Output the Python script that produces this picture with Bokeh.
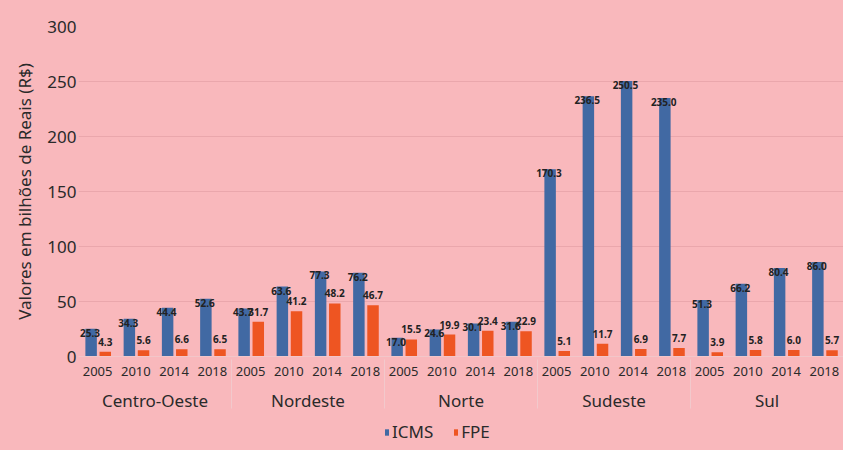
from bokeh.plotting import figure
from bokeh.layouts import column
from bokeh.models import FactorRange, Range1d, ColumnDataSource, Legend, LegendItem, FixedTicker
from bokeh.transform import dodge
from bokeh.core.properties import value
from bokeh.embed import file_html
from bokeh.resources import INLINE

regions = ["Centro-Oeste", "Nordeste", "Norte", "Sudeste", "Sul"]
years = ["2005", "2010", "2014", "2018"]
icms = [25.3, 34.3, 44.4, 52.6,
        43.7, 63.6, 77.3, 76.2,
        17.0, 24.6, 30.1, 31.6,
        170.3, 236.5, 250.5, 235.0,
        51.3, 66.2, 80.4, 86.0]
fpe = [4.3, 5.6, 6.6, 6.5,
       31.7, 41.2, 48.2, 46.7,
       15.5, 19.9, 23.4, 22.9,
       5.1, 11.7, 6.9, 7.7,
       3.9, 5.8, 6.0, 5.7]
y_ticks = [0, 50, 100, 150, 200, 250, 300]
series = ["ICMS", "FPE"]

BG = "#F9B8BC"
BLUE = "#4169A3"
ORANGE = "#EE5522"
FONT = "Noto Sans"

factors = [(r, y) for r in regions for y in years]
src = ColumnDataSource(dict(
    x=factors, icms=icms, fpe=fpe,
    icms_lbl=[f"{v:.1f}" for v in icms],
    fpe_lbl=[f"{v:.1f}" for v in fpe],
))

p = figure(width=843, height=420, output_backend="svg", toolbar_location=None,
           x_range=FactorRange(*factors, group_padding=0, factor_padding=0, range_padding=0),
           y_range=Range1d(0, 300))
p.min_border_left = 78
p.min_border_right = 0
p.min_border_top = 26
p.min_border_bottom = 64
p.background_fill_color = BG
p.border_fill_color = BG
p.outline_line_color = None

p.vbar(x=dodge("x", -0.17, range=p.x_range), top="icms", width=0.3, source=src,
       fill_color=BLUE, line_color=None)
p.vbar(x=dodge("x", 0.2, range=p.x_range), top="fpe", width=0.3, source=src,
       fill_color=ORANGE, line_color=None)

p.text(x=dodge("x", -0.2, range=p.x_range), y="icms", text="icms_lbl", source=src,
       text_font=value(FONT), text_font_size="10px", text_font_style="bold",
       text_color="#222222", text_align="center", text_baseline="middle", y_offset=4)
p.text(x=dodge("x", 0.2, range=p.x_range), y="fpe", text="fpe_lbl", source=src,
       text_font=value(FONT), text_font_size="10px", text_font_style="bold",
       text_color="#222222", text_align="center", text_baseline="middle", y_offset=-10)

# grid
p.xgrid.grid_line_color = None
p.ygrid.grid_line_color = "#EAA7AC"
p.ygrid.grid_line_width = 1

# y axis
ya = p.yaxis[0]
ya.ticker = FixedTicker(ticks=y_ticks)
ya.axis_line_color = None
ya.major_tick_line_color = None
ya.major_tick_out = 0
ya.major_tick_in = 0
ya.minor_tick_line_color = None
ya.minor_tick_out = 0
ya.major_label_text_font = FONT
ya.major_label_text_font_size = "17px"
ya.major_label_text_color = "#2a2a2a"
ya.major_label_standoff = 2
ya.axis_label = "Valores em bilhões de Reais (R$)"
ya.axis_label_text_font = FONT
ya.axis_label_text_font_size = "17px"
ya.axis_label_text_font_style = "normal"
ya.axis_label_text_color = "#2a2a2a"
ya.axis_label_standoff = 8

# x axis
xa = p.xaxis[0]
xa.axis_line_color = "#F2C6C9"
xa.major_tick_line_color = None
xa.major_tick_out = 0
xa.minor_tick_line_color = None
xa.major_label_text_font = FONT
xa.major_label_text_font_size = "13px"
xa.major_label_text_color = "#2a2a2a"
xa.major_label_standoff = 10
xa.group_text_font = FONT
xa.group_text_font_size = "17px"
xa.group_text_color = "#2a2a2a"
xa.group_text_font_style = "normal"
xa.separator_line_color = "#F2C9CC"
xa.separator_line_width = 1

# legend strip below the chart (its bars have zero width, only the legend shows)
lg = figure(width=843, height=30, output_backend="svg", toolbar_location=None,
            x_range=FactorRange(*factors, group_padding=0, factor_padding=0, range_padding=0),
            y_range=Range1d(-20, -10), x_axis_type=None, y_axis_type=None)
lg.min_border_left = 0
lg.min_border_right = 0
lg.min_border_top = 0
lg.min_border_bottom = 0
lg.background_fill_color = BG
lg.border_fill_color = BG
lg.outline_line_color = None
lg.grid.grid_line_color = None
lr1 = lg.vbar(x="x", top="icms", width=0, source=src, fill_color=BLUE, line_color=None)
lr2 = lg.vbar(x="x", top="fpe", width=0, source=src, fill_color=ORANGE, line_color=None)
legend = Legend(items=[LegendItem(label=series[0], renderers=[lr1]),
                       LegendItem(label=series[1], renderers=[lr2])],
                orientation="horizontal", location=(306, 7),
                background_fill_alpha=0, border_line_color=None,
                label_text_font=FONT, label_text_font_size="17px",
                label_text_color="#2a2a2a", glyph_width=5, glyph_height=8,
                spacing=20, label_standoff=3, padding=2, margin=0)
lg.add_layout(legend, "center")

layout = column(p, lg, spacing=0)
layout.styles = {"background-color": BG}
open("out.html", "w").write(file_html(layout, INLINE))
